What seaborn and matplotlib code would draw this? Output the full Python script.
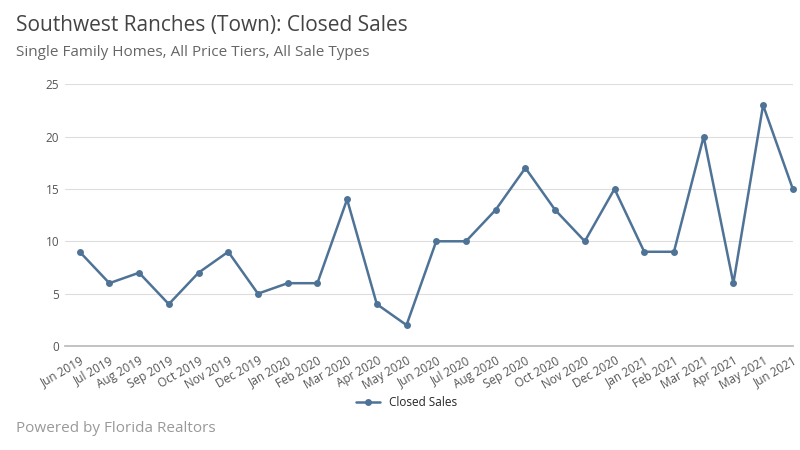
import matplotlib
matplotlib.use("Agg")
import matplotlib.pyplot as plt
import seaborn as sns
import pandas as pd

months = ["Jun 2019", "Jul 2019", "Aug 2019", "Sep 2019", "Oct 2019", "Nov 2019", "Dec 2019",
          "Jan 2020", "Feb 2020", "Mar 2020", "Apr 2020", "May 2020", "Jun 2020", "Jul 2020",
          "Aug 2020", "Sep 2020", "Oct 2020", "Nov 2020", "Dec 2020", "Jan 2021", "Feb 2021",
          "Mar 2021", "Apr 2021", "May 2021", "Jun 2021"]
closed_sales = [9, 6, 7, 4, 7, 9, 5, 6, 6, 14, 4, 2, 10, 10, 13, 17, 13, 10, 15, 9, 9, 20, 6, 23, 15]

df = pd.DataFrame({"x": range(len(months)), "Closed Sales": closed_sales})

sns.set_theme(style="white")
plt.rcParams['font.family'] = 'sans-serif'
plt.rcParams['font.sans-serif'] = ['Open Sans', 'DejaVu Sans']

color = "#4e7396"
fig = plt.figure(figsize=(8, 4.5), dpi=100)
ax = fig.add_axes([0.081, 0.231, 0.91, 0.582])
sns.lineplot(data=df, x="x", y="Closed Sales", ax=ax, color=color, linewidth=1.8,
             marker="o", markersize=5, markeredgewidth=0, label="Closed Sales", clip_on=False)

ax.set_xlim(-0.5, len(months) - 1)
ax.set_ylim(0, 25)
ax.set_yticks([0, 5, 10, 15, 20, 25])
ax.set_xticks(range(len(months)))
ax.set_xticklabels(months, rotation=30, ha="right", rotation_mode="anchor")
ax.tick_params(axis="both", labelsize=8.5, colors="#555555", length=0, pad=4)
ax.tick_params(axis="x", pad=6)
ax.grid(axis="y", color="#dddddd", linewidth=0.8)
for s in ["top", "right", "left"]:
    ax.spines[s].set_visible(False)
ax.spines["bottom"].set_color("#bbbbbb")
ax.set_xlabel("")
ax.set_ylabel("")

ax.legend(loc="upper center", bbox_to_anchor=(0.47, -0.15), frameon=False, fontsize=8.5)

fig.text(0.02, 0.93, "Southwest Ranches (Town): Closed Sales", fontsize=15, color="#444444")
fig.text(0.02, 0.875, "Single Family Homes, All Price Tiers, All Sale Types", fontsize=11, color="#666666")
fig.text(0.02, 0.04, "Powered by Florida Realtors", fontsize=11, color="#999999")

fig.savefig("out.png", dpi=100)
